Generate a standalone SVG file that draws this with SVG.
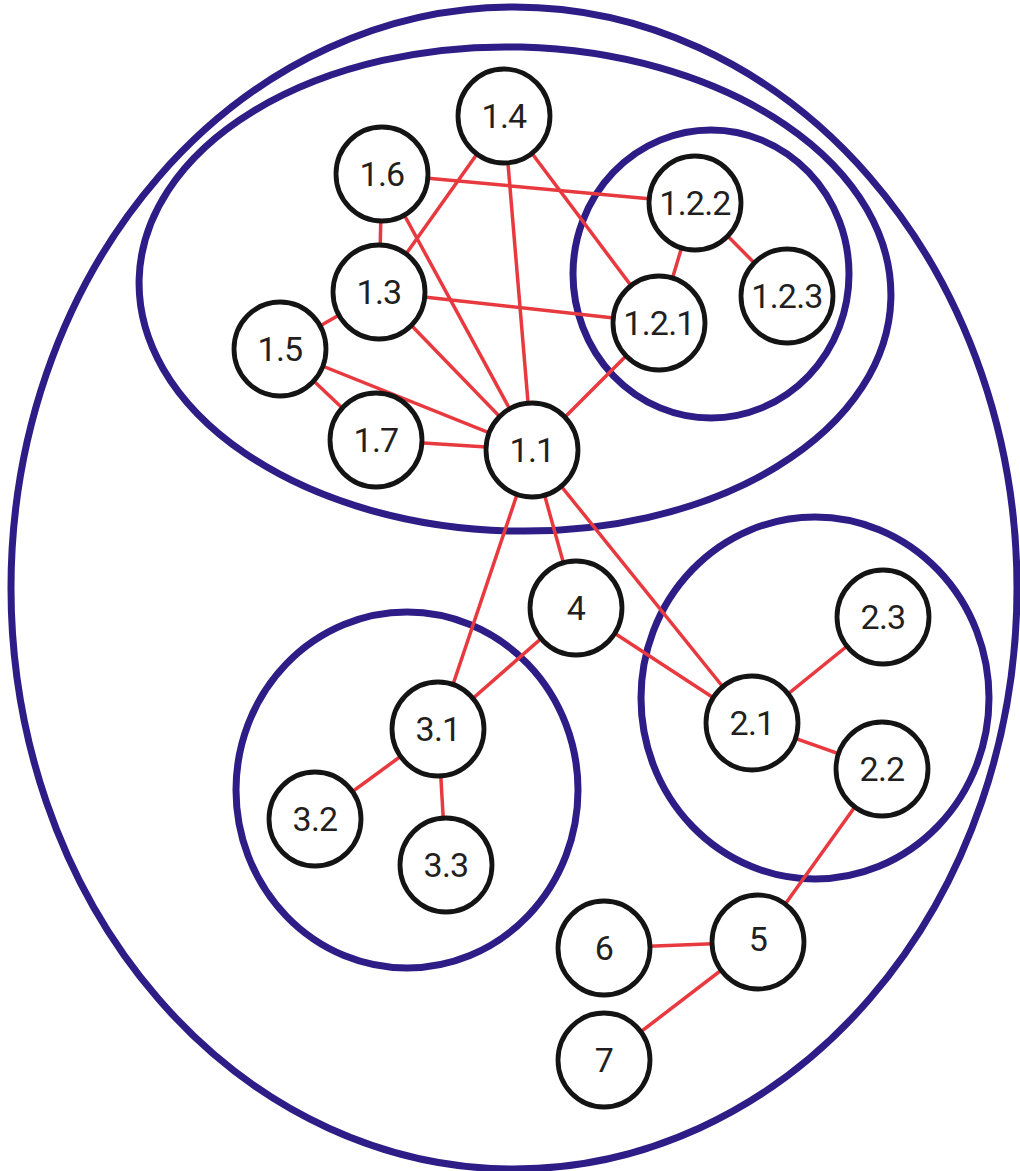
<svg xmlns="http://www.w3.org/2000/svg" width="1020" height="1171" viewBox="0 0 1020 1171">
  <style>
    .group { fill: none; stroke: #2e1d86; stroke-width: 7; }
    .edge { stroke: #e8393f; stroke-width: 3.5; stroke-linecap: butt; }
    .node ellipse { fill: #ffffff; stroke: #141414; stroke-width: 4.8; }
    .node text { font-family: Roboto, "Noto Sans", "Liberation Sans", sans-serif; font-size: 34px; letter-spacing: -0.8px; fill: #231f20; text-anchor: middle; }
  </style>
  <rect x="0" y="0" width="1020" height="1171" fill="#ffffff"/>

  <!-- Grouping outlines -->
  <g id="groups">
    <ellipse id="group-all" class="group" cx="514" cy="588" rx="503" ry="581"/>
    <ellipse id="group-1" class="group" cx="515" cy="289" rx="376" ry="242" transform="rotate(1.5 515 289)"/>
    <ellipse id="group-1-2" class="group" cx="711" cy="274" rx="138" ry="144"/>
    <ellipse id="group-3" class="group" cx="407" cy="790" rx="171" ry="178"/>
    <ellipse id="group-2" class="group" cx="815" cy="698" rx="174" ry="181"/>
  </g>

  <!-- Connectors (centre to centre, covered by the node discs) -->
  <g id="connectors">
    <line class="edge" x1="382" y1="174" x2="695" y2="203"/>
    <line class="edge" x1="382" y1="174" x2="379" y2="292"/>
    <line class="edge" x1="382" y1="174" x2="532" y2="450"/>
    <line class="edge" x1="504" y1="116" x2="379" y2="292"/>
    <line class="edge" x1="504" y1="116" x2="532" y2="450"/>
    <line class="edge" x1="504" y1="116" x2="659" y2="323"/>
    <line class="edge" x1="695" y1="203" x2="659" y2="323"/>
    <line class="edge" x1="695" y1="203" x2="787" y2="296"/>
    <line class="edge" x1="379" y1="292" x2="659" y2="323"/>
    <line class="edge" x1="379" y1="292" x2="280" y2="349"/>
    <line class="edge" x1="379" y1="292" x2="532" y2="450"/>
    <line class="edge" x1="280" y1="349" x2="532" y2="450"/>
    <line class="edge" x1="280" y1="349" x2="376" y2="440"/>
    <line class="edge" x1="376" y1="440" x2="532" y2="450"/>
    <line class="edge" x1="659" y1="323" x2="532" y2="450"/>
    <line class="edge" x1="532" y1="450" x2="576" y2="608"/>
    <line class="edge" x1="532" y1="450" x2="438" y2="729"/>
    <line class="edge" x1="532" y1="450" x2="752" y2="723"/>
    <line class="edge" x1="576" y1="608" x2="438" y2="729"/>
    <line class="edge" x1="576" y1="608" x2="752" y2="723"/>
    <line class="edge" x1="752" y1="723" x2="883" y2="617"/>
    <line class="edge" x1="752" y1="723" x2="882" y2="769"/>
    <line class="edge" x1="438" y1="729" x2="315" y2="819"/>
    <line class="edge" x1="438" y1="729" x2="446" y2="865"/>
    <line class="edge" x1="882" y1="769" x2="758" y2="942"/>
    <line class="edge" x1="758" y1="942" x2="604" y2="948"/>
    <line class="edge" x1="758" y1="942" x2="604" y2="1060"/>
  </g>

  <!-- Nodes -->
  <g id="n1-4" class="node"><ellipse cx="504" cy="116" rx="46" ry="47"/><text x="504" y="128">1.4</text></g>
  <g id="n1-6" class="node"><ellipse cx="382" cy="174" rx="46" ry="47"/><text x="382" y="186">1.6</text></g>
  <g id="n1-2-2" class="node"><ellipse cx="695" cy="203" rx="46" ry="47"/><text x="695" y="215">1.2.2</text></g>
  <g id="n1-3" class="node"><ellipse cx="379" cy="292" rx="46" ry="47"/><text x="379" y="304">1.3</text></g>
  <g id="n1-2-3" class="node"><ellipse cx="787" cy="296" rx="46" ry="47"/><text x="787" y="308">1.2.3</text></g>
  <g id="n1-2-1" class="node"><ellipse cx="659" cy="323" rx="46" ry="47"/><text x="659" y="335">1.2.1</text></g>
  <g id="n1-5" class="node"><ellipse cx="280" cy="349" rx="46" ry="47"/><text x="280" y="361">1.5</text></g>
  <g id="n1-7" class="node"><ellipse cx="376" cy="440" rx="46" ry="47"/><text x="376" y="452">1.7</text></g>
  <g id="n1-1" class="node"><ellipse cx="532" cy="450" rx="46" ry="47"/><text x="532" y="462">1.1</text></g>
  <g id="n4" class="node"><ellipse cx="576" cy="608" rx="46" ry="47"/><text x="576" y="620">4</text></g>
  <g id="n2-3" class="node"><ellipse cx="883" cy="617" rx="46" ry="47"/><text x="883" y="629">2.3</text></g>
  <g id="n3-1" class="node"><ellipse cx="438" cy="729" rx="46" ry="47"/><text x="438" y="741">3.1</text></g>
  <g id="n2-1" class="node"><ellipse cx="752" cy="723" rx="46" ry="47"/><text x="752" y="735">2.1</text></g>
  <g id="n2-2" class="node"><ellipse cx="882" cy="769" rx="46" ry="47"/><text x="882" y="781">2.2</text></g>
  <g id="n3-2" class="node"><ellipse cx="315" cy="819" rx="46" ry="47"/><text x="315" y="831">3.2</text></g>
  <g id="n3-3" class="node"><ellipse cx="446" cy="865" rx="46" ry="47"/><text x="446" y="877">3.3</text></g>
  <g id="n6" class="node"><ellipse cx="604" cy="948" rx="46" ry="47"/><text x="604" y="960">6</text></g>
  <g id="n5" class="node"><ellipse cx="758" cy="942" rx="46" ry="47"/><text x="758" y="951">5</text></g>
  <g id="n7" class="node"><ellipse cx="604" cy="1060" rx="46" ry="47"/><text x="604" y="1072">7</text></g>
</svg>
